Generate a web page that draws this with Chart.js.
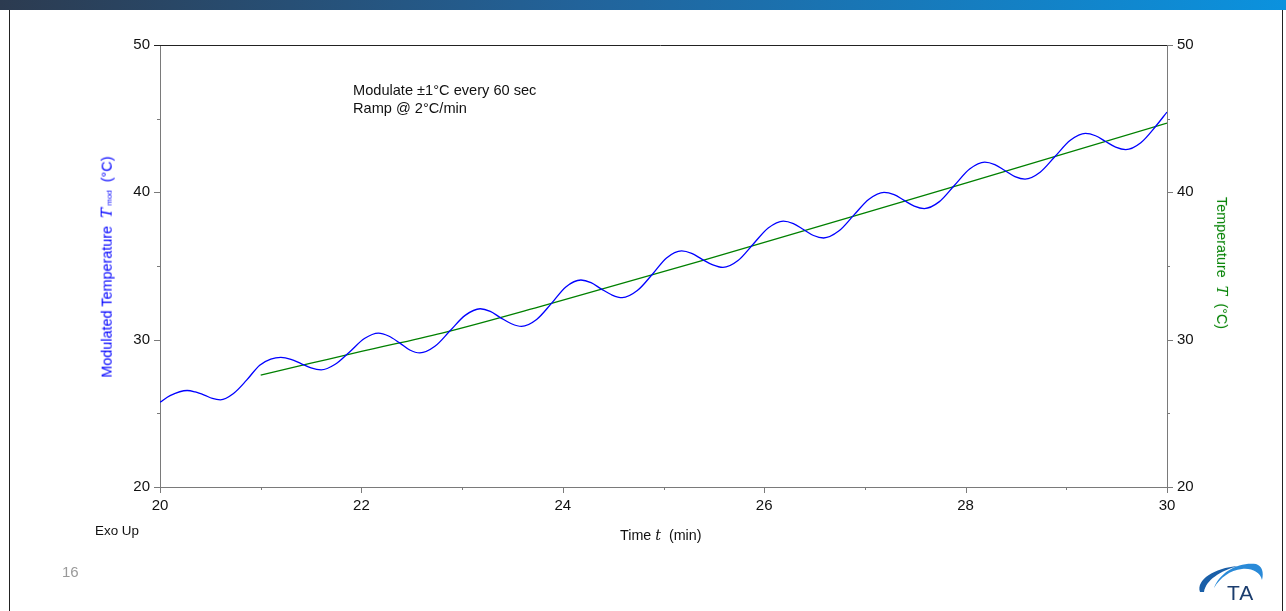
<!DOCTYPE html>
<html>
<head>
<meta charset="utf-8">
<script src="https://cdn.jsdelivr.net/npm/chart.js@4.4.1/dist/chart.umd.min.js"></script>
<style>
  body { margin: 0; background: #fff; font-family: "Liberation Sans", Arial, sans-serif; }
  #wrap { position: relative; width: 1286px; height: 611px; overflow: hidden; }
  #topbar { position: absolute; left: 0; top: 0; width: 1286px; height: 10px;
    background: linear-gradient(to right, #2c3b50 0%, #22639a 45%, #0b92de 100%); }
  .edge { position: absolute; top: 10px; width: 1px; height: 601px; background: #222; }
  canvas { position: absolute; left: 0; top: 0; }
  .txt { position: absolute; white-space: nowrap; font-size: 14px; color: #111; }
  .it { font-family: "DejaVu Serif", "Liberation Serif", serif; font-style: italic; }
  .rot { position: absolute; white-space: nowrap; font-size: 14.4px; transform-origin: center center; }
</style>
</head>
<body>
<div id="wrap">
  <div id="topbar"></div>
  <div class="edge" style="left:9px"></div>
  <div class="edge" style="left:1282px"></div>
  <canvas id="chart" width="1286" height="611"></canvas>

  <div class="txt" style="left:353px; top:81px; line-height:18px; font-size:14.6px;">Modulate ±1°C every 60 sec<br>Ramp @ 2°C/min</div>
  <div class="txt" style="left:95px; top:523px; font-size:13.4px;">Exo Up</div>
  <div class="txt" style="left:62px; top:563px; color:#999; font-size:15px;">16</div>
  <div class="txt" id="xtitle" style="left:620px; top:527px; font-size:14.3px;">Time <span class="it">t</span>&nbsp; (min)</div>
  <div class="rot" id="ytitle" style="color:#0000ff;">Modulated Temperature&nbsp; <span class="it" style="font-size:15px">T</span><span style="font-size:8px"> mod</span>&nbsp; (°C)</div>
  <div class="rot" id="y2title" style="color:#008000;">Temperature&nbsp; <span class="it">T</span>&nbsp; (°C)</div>

  <svg style="position:absolute; left:1194px; top:558px;" width="76" height="50" viewBox="0 0 76 50">
    <path d="M6 34 C 2 22, 20 10, 44 8 C 26 13, 12 22, 10 34 Z" fill="#1a5fa8"/>
    <path d="M20 30 C 26 14, 44 4, 62 6 C 68 8, 70 14, 68 22 C 66 14, 58 10, 48 11 C 36 12, 26 20, 20 30 Z" fill="#2a8ad8"/>
    <text x="33" y="42" font-family="Liberation Sans, Arial, sans-serif" font-size="21" letter-spacing="1" fill="#1b3d6e">TA</text>
  </svg>
</div>
<script>
// modulated temperature (blue)
const blueTimes = [20.00, 20.10, 20.27, 20.35, 20.44, 20.52, 20.60, 20.73, 20.86, 20.99, 21.10, 21.20,
  21.30, 21.40, 21.50, 21.60, 21.74, 21.88, 22.03, 22.17, 22.27, 22.38, 22.48, 22.58,
  22.73, 22.88, 23.03, 23.18, 23.28, 23.38, 23.49, 23.59, 23.74, 23.89, 24.03, 24.18,
  24.28, 24.38, 24.49, 24.59, 24.74, 24.89, 25.03, 25.18, 25.28, 25.38, 25.49, 25.59,
  25.74, 25.89, 26.04, 26.19, 26.29, 26.39, 26.49, 26.59, 26.74, 26.89, 27.04, 27.19,
  27.29, 27.39, 27.49, 27.59, 27.74, 27.89, 28.04, 28.19, 28.29, 28.39, 28.49, 28.59,
  28.74, 28.89, 29.04, 29.19, 29.29, 29.39, 29.49, 29.59, 29.74, 29.89, 30.00];
const blueTemps = [25.75, 26.20, 26.55, 26.45, 26.24, 26.01, 25.92, 26.35, 27.25, 28.27, 28.68, 28.80,
  28.67, 28.38, 28.08, 27.95, 28.33, 29.15, 30.08, 30.45, 30.25, 29.78, 29.30, 29.10,
  29.55, 30.60, 31.65, 32.10, 31.92, 31.50, 31.08, 30.90, 31.37, 32.48, 33.58, 34.05,
  33.87, 33.45, 33.03, 32.85, 33.33, 34.44, 35.55, 36.03, 35.86, 35.47, 35.07, 34.90,
  35.37, 36.48, 37.58, 38.05, 37.88, 37.48, 37.07, 36.90, 37.37, 38.45, 39.53, 40.00,
  39.84, 39.45, 39.07, 38.90, 39.37, 40.48, 41.58, 42.05, 41.88, 41.48, 41.07, 40.90,
  41.37, 42.45, 43.53, 44.00, 43.84, 43.45, 43.07, 42.90, 43.37, 44.50, 45.45];

// underlying temperature (green)
const greenTimes = [21.0, 21.5, 22.0, 22.8, 23.8, 25.4, 27.0, 28.5, 30.0];
const greenTemps = [27.6, 28.4, 29.2, 30.45, 32.3, 35.4, 38.6, 41.65, 44.7];

const xTicks = [20, 22, 24, 26, 28, 30];
const yTicks = [20, 30, 40, 50];

const toPoints = (xs, ys) => xs.map((x, i) => ({ x: x, y: ys[i] }));

const axisGray = '#7a7a7a';
const tickFont = { family: '"Liberation Sans", Arial, sans-serif', size: 15 };

const tickMarks = {
  id: 'tickMarks',
  afterDraw(c) {
    const ctx = c.ctx, a = c.chartArea;
    const x = c.scales.x, y = c.scales.y, y2 = c.scales.y2;
    ctx.save();
    ctx.lineWidth = 1;
    ctx.strokeStyle = axisGray;
    for (let v = 20; v <= 30; v++) {
      const px = Math.round(x.getPixelForValue(v)) + 0.5;
      const len = xTicks.includes(v) ? 6 : 3;
      ctx.beginPath(); ctx.moveTo(px, a.bottom); ctx.lineTo(px, a.bottom + len); ctx.stroke();
    }
    for (let v = 20; v <= 50; v += 5) {
      const py = Math.round(y.getPixelForValue(v)) + 0.5;
      const len = yTicks.includes(v) ? 6 : 3;
      ctx.beginPath(); ctx.moveTo(a.left - len, py); ctx.lineTo(a.left, py); ctx.stroke();
      const py2 = Math.round(y2.getPixelForValue(v)) + 0.5;
      ctx.beginPath(); ctx.moveTo(a.right, py2); ctx.lineTo(a.right + len, py2); ctx.stroke();
    }
    // top frame line
    ctx.strokeStyle = '#222';
    const top = Math.round(a.top) + 0.5;
    ctx.beginPath(); ctx.moveTo(a.left - 6, top); ctx.lineTo(a.right, top); ctx.stroke();
    ctx.restore();
  }
};

new Chart(document.getElementById('chart'), {
  type: 'line',
  data: {
    datasets: [
      { label: 'Modulated Temperature', data: toPoints(blueTimes, blueTemps), yAxisID: 'y',
        borderColor: '#0000ff', borderWidth: 1.3, pointRadius: 0, fill: false, cubicInterpolationMode: 'monotone' },
      { label: 'Temperature', data: toPoints(greenTimes, greenTemps), yAxisID: 'y2',
        borderColor: '#008000', borderWidth: 1.3, pointRadius: 0, fill: false, cubicInterpolationMode: 'monotone' }
    ]
  },
  options: {
    responsive: false,
    animation: false,
    devicePixelRatio: 1,
    layout: { padding: { top: 45, left: 0, right: 0, bottom: 0 } },
    plugins: { legend: { display: false }, tooltip: { enabled: false } },
    scales: {
      x: {
        type: 'linear', min: 20, max: 30,
        afterBuildTicks: s => { s.ticks = xTicks.map(v => ({ value: v })); },
        ticks: { font: tickFont, color: '#111', padding: 10, maxRotation: 0 },
        grid: { display: false, drawTicks: false },
        border: { color: axisGray, width: 1 },
        afterFit: s => { s.height = 124; }
      },
      y: {
        position: 'left', min: 20, max: 50,
        afterBuildTicks: s => { s.ticks = yTicks.map(v => ({ value: v })); },
        ticks: { font: tickFont, color: '#111', padding: 10 },
        grid: { display: false, drawTicks: false },
        border: { color: axisGray, width: 1 },
        afterFit: s => { s.width = 160; }
      },
      y2: {
        position: 'right', min: 20, max: 50,
        afterBuildTicks: s => { s.ticks = yTicks.map(v => ({ value: v })); },
        ticks: { font: tickFont, color: '#111', padding: 10 },
        grid: { display: false, drawTicks: false },
        border: { color: axisGray, width: 1 },
        afterFit: s => { s.width = 119; }
      }
    }
  },
  plugins: [tickMarks]
});

// place the rotated axis titles
function placeRot(id, cx, cy, deg) {
  const el = document.getElementById(id);
  const w = el.offsetWidth, h = el.offsetHeight;
  el.style.left = (cx - w / 2) + 'px';
  el.style.top = (cy - h / 2) + 'px';
  el.style.transform = 'rotate(' + deg + 'deg)';
}
placeRot('ytitle', 106, 267, -90);
placeRot('y2title', 1222, 263, 90);
</script>
</body>
</html>
